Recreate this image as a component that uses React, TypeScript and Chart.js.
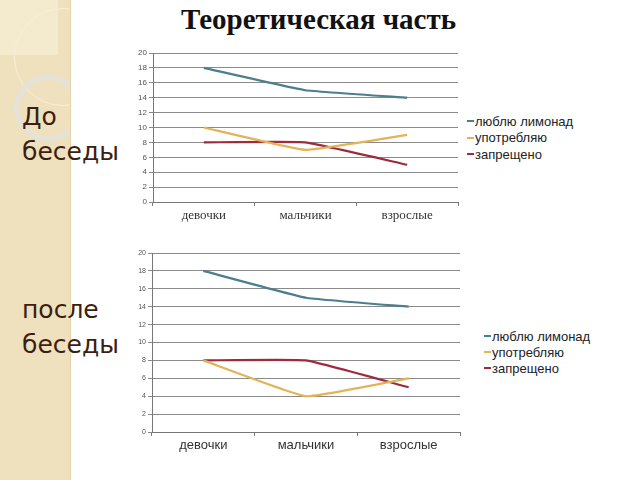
import React, { useEffect, useRef } from "react";
import { Chart, registerables } from "chart.js";

Chart.register(...registerables);

const title = "Теоретическая часть";
const categories = ["девочки", "мальчики", "взрослые"];
const seriesNames = ["люблю лимонад", "употребляю", "запрещено"];
const seriesColors = ["#4b7f8c", "#e2b357", "#9e2a3c"];

const beforeLove = [18, 15, 14];
const beforeUse = [10, 7, 9];
const beforeForbid = [8, 8, 5];

const afterLove = [18, 15, 14];
const afterUse = [8, 4, 6];
const afterForbid = [8, 8, 5];

const yTicks = [0, 2, 4, 6, 8, 10, 12, 14, 16, 18, 20];

type ChartProps = {
  series: number[][];
  left: number;
  top: number;
  width: number;
  height: number;
  yAxisWidth: number;
  xAxisHeight: number;
  padTop: number;
  padRight: number;
  catFont: string;
  catSize: number;
  yTickSize: number;
};

function LineChart(p: ChartProps) {
  const ref = useRef<HTMLCanvasElement | null>(null);
  useEffect(() => {
    if (!ref.current) return;
    const chart = new Chart(ref.current, {
      type: "line",
      data: {
        labels: categories,
        datasets: p.series.map((d, i) => ({
          label: seriesNames[i],
          data: d,
          borderColor: seriesColors[i],
          backgroundColor: seriesColors[i],
          borderWidth: 2.2,
          pointRadius: 0,
          tension: 0.1,
          fill: false,
        })),
      },
      options: {
        animation: false,
        responsive: false,
        maintainAspectRatio: false,
        layout: { padding: { top: p.padTop, right: p.padRight, left: 0, bottom: 0 } },
        plugins: { legend: { display: false }, tooltip: { enabled: false }, title: { display: false } },
        scales: {
          x: {
            offset: true,
            grid: {
              offset: true,
              drawOnChartArea: false,
              drawTicks: true,
              tickLength: 4,
              color: "#777",
            },
            border: { display: true, color: "#777" },
            ticks: {
              color: "#333",
              padding: 2,
              font: { family: p.catFont, size: p.catSize },
              maxRotation: 0,
            },
            afterFit: (s: any) => {
              s.height = p.xAxisHeight;
            },
          },
          y: {
            min: 0,
            max: 20,
            afterBuildTicks: (s: any) => {
              s.ticks = yTicks.map((v) => ({ value: v }));
            },
            grid: {
              color: "#8a8a8a",
              lineWidth: 1,
              drawTicks: true,
              tickLength: 4,
            },
            border: { display: true, color: "#777" },
            ticks: {
              color: "#555",
              padding: 2,
              font: { family: "Liberation Sans, Arial, sans-serif", size: p.yTickSize },
            },
            afterFit: (s: any) => {
              s.width = p.yAxisWidth;
            },
          },
        },
      },
    });
    return () => chart.destroy();
  }, []);
  return (
    <canvas
      ref={ref}
      width={p.width}
      height={p.height}
      style={{ position: "absolute", left: p.left, top: p.top, width: p.width, height: p.height }}
    />
  );
}

function Legend({ left, top, gap }: { left: number; top: number; gap: number }) {
  return (
    <div style={{ position: "absolute", left, top, fontFamily: "Liberation Sans, Arial, sans-serif", fontSize: 13, color: "#222" }}>
      {seriesNames.map((n, i) => (
        <div key={n} style={{ height: gap, display: "flex", alignItems: "center", whiteSpace: "nowrap" }}>
          <span style={{ display: "inline-block", width: 7, height: 2, background: seriesColors[i], marginRight: 1 }} />
          {n}
        </div>
      ))}
    </div>
  );
}

export default function App() {
  const sideText: React.CSSProperties = {
    position: "absolute",
    left: 22,
    fontFamily: "'Gill Sans', 'DejaVu Sans', 'Noto Sans', sans-serif",
    fontSize: 25,
    lineHeight: "35px",
    color: "#3d1e12",
    whiteSpace: "nowrap",
  };
  return (
    <div style={{ position: "fixed", left: 0, top: 0, width: 640, height: 480, background: "#fff", overflow: "hidden" }}>
      <div style={{ position: "absolute", left: 0, top: 0, width: 70, height: 480, background: "#efe1bd", overflow: "hidden", borderRight: "1px solid #e2d3a8" }}>
        <div style={{ position: "absolute", left: 0, top: 0, width: 58, height: 55, background: "#f4eacd" }} />
        <div style={{ position: "absolute", left: 14, top: 8, width: 96, height: 96, borderRadius: "50%", border: "1px solid #f8f0d8" }} />
        <div style={{ position: "absolute", left: 14, top: 74, width: 56, height: 56, borderRadius: "50%", border: "6px solid #e6e2d6" }} />
      </div>
      <div style={{ position: "absolute", left: 181, top: 3, fontFamily: "'Liberation Serif', 'Times New Roman', serif", fontWeight: "bold", fontSize: 29, color: "#111", whiteSpace: "nowrap" }}>
        {title}
      </div>
      <div style={{ ...sideText, top: 99 }}>До<br />беседы</div>
      <div style={{ ...sideText, top: 292 }}>после<br />беседы</div>

      <LineChart
        series={[beforeLove, beforeUse, beforeForbid]}
        left={120}
        top={45}
        width={345}
        height={185}
        yAxisWidth={33}
        xAxisHeight={28}
        padTop={8}
        padRight={7}
        catFont="'Liberation Serif', 'Times New Roman', serif"
        catSize={13}
        yTickSize={8}
      />
      <Legend left={467} top={113} gap={16.5} />

      <LineChart
        series={[afterLove, afterUse, afterForbid]}
        left={120}
        top={245}
        width={345}
        height={210}
        yAxisWidth={32}
        xAxisHeight={23}
        padTop={8}
        padRight={5}
        catFont="'Liberation Sans', Arial, sans-serif"
        catSize={13}
        yTickSize={7}
      />
      <Legend left={484} top={328} gap={16} />
    </div>
  );
}
